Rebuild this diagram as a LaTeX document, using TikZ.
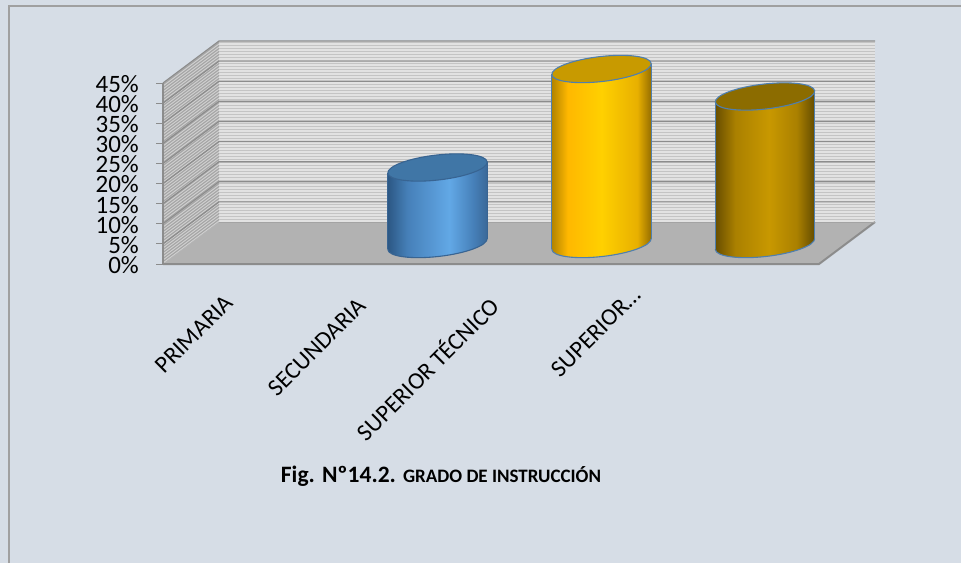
\documentclass[tikz,border=0pt]{standalone}
\usepackage{fontspec}
\setmainfont{Carlito}
\definecolor{bgc}{RGB}{214,221,230}
\definecolor{framec}{RGB}{160,160,160}
\definecolor{wallc}{RGB}{226,226,226}
\definecolor{stripec}{RGB}{196,196,196}
\definecolor{sidec}{RGB}{210,210,210}
\definecolor{sidestripe}{RGB}{165,165,165}
\definecolor{gridc}{RGB}{140,140,140}
\definecolor{floorc}{RGB}{178,178,178}
\definecolor{flooredge}{RGB}{140,140,140}
\definecolor{bA}{RGB}{44,88,132}
\definecolor{bB}{RGB}{70,128,185}
\definecolor{bC}{RGB}{98,168,230}
\definecolor{bD}{RGB}{58,104,152}
\definecolor{btop}{RGB}{64,118,166}
\definecolor{bline}{RGB}{56,100,146}
\definecolor{gA}{RGB}{178,132,0}
\definecolor{gB}{RGB}{255,184,0}
\definecolor{gC}{RGB}{255,208,0}
\definecolor{gD}{RGB}{232,176,0}
\definecolor{gE}{RGB}{150,110,0}
\definecolor{gtop}{RGB}{200,154,0}
\definecolor{dA}{RGB}{104,78,0}
\definecolor{dB}{RGB}{170,128,0}
\definecolor{dC}{RGB}{200,152,0}
\definecolor{dD}{RGB}{170,128,0}
\definecolor{dE}{RGB}{100,76,0}
\definecolor{dtop}{RGB}{140,108,0}
\definecolor{outl}{RGB}{79,127,175}
\pgfdeclarehorizontalshading{cylblue}{100bp}{color(0bp)=(bA); color(25bp)=(bA); color(35bp)=(bB); color(56bp)=(bC); color(68bp)=(bB); color(75bp)=(bD); color(100bp)=(bD)}
\pgfdeclarehorizontalshading{cylgold}{100bp}{color(0bp)=(gA); color(25bp)=(gA); color(33bp)=(gB); color(50bp)=(gC); color(68bp)=(gD); color(75bp)=(gE); color(100bp)=(gE)}
\pgfdeclarehorizontalshading{cyldark}{100bp}{color(0bp)=(dA); color(25bp)=(dA); color(35bp)=(dB); color(52bp)=(dC); color(66bp)=(dD); color(75bp)=(dE); color(100bp)=(dE)}
\newcommand\cylbar[6]{% #1 cx, #2 ytop, #3 ybot, #4 shading, #5 top color, #6 line color
  \begin{scope}
    \clip ({#1-49.7},{#2+5.3}) -- ({#1+49.7},{#2-5.3}) -- ({#1+49.7},{#3-5.3}) -- ({#1-49.7},{#3+5.3}) -- cycle;
    \shade[shading=#4] ({#1-49.7},{#2-20}) rectangle ({#1+49.7},{#3+20});
  \end{scope}
  \begin{scope}
    \clip[rotate around={6.5:(#1,#3)}] (#1,#3) ellipse [x radius=50pt, y radius=12.5pt];
    \shade[shading=#4] ({#1-49.7},{#2-20}) rectangle ({#1+49.7},{#3+20});
  \end{scope}
  \begin{scope}
    \clip ({#1-60},{#3+6.4}) -- ({#1+60},{#3-6.4}) -- ({#1+60},{#3+40}) -- ({#1-60},{#3+40}) -- cycle;
    \draw[#6, line width=1.1pt, rotate around={6.5:(#1,#3)}] (#1,#3) ellipse [x radius=50pt, y radius=12.5pt];
  \end{scope}
  \draw[#6, line width=1.1pt] ({#1-49.7},{#2+5.3}) -- ({#1-49.7},{#3+5.3});
  \draw[#6, line width=1.1pt] ({#1+49.7},{#2-5.3}) -- ({#1+49.7},{#3-5.3});
  \filldraw[fill=#5, draw=#6, line width=1.1pt, rotate around={6.5:(#1,#2)}] (#1,#2) ellipse [x radius=50pt, y radius=12.5pt];
}
\tikzset{
  ylab/.style={anchor=east, inner sep=0pt, font=\fontsize{25}{25}\selectfont},
  catlab/.style={anchor=center, rotate=45, inner sep=0pt, font=\fontsize{24}{24}\selectfont},
}
\begin{document}
\begin{tikzpicture}[x=1pt,y=-1pt]
\useasboundingbox (0,0) rectangle (961,563);
\fill[bgc] (0,0) rectangle (961,563);
\draw[framec, line width=2pt] (8.5,563) -- (8.5,5.5) -- (961,5.5);
% back wall
\fill[wallc] (219,41) rectangle (875,222);
\foreach \yy in {42.5,45.5,...,221} \draw[stripec, line width=1.3pt] (219,\yy) -- (875,\yy);
% side wall
\fill[sidec] (163,264) -- (219,222) -- (219,41) -- (163,83) -- cycle;
\begin{scope}
  \clip (163,264) -- (219,222) -- (219,41) -- (163,83) -- cycle;
  \foreach \yy in {84.5,87.5,...,265} \draw[sidestripe, line width=1.2pt] (163,\yy) -- (219,{\yy-42});
\end{scope}
% gridlines
\foreach \k in {1,...,9} {
  \draw[gridc, line width=1.2pt] (163,{264-20.11*\k}) -- (219,{222-20.11*\k}) -- (875,{222-20.11*\k});
}
\foreach \k in {0,...,9} \draw[gridc, line width=1pt] (156,{264-20.11*\k}) -- (163,{264-20.11*\k});
\draw[gridc, line width=1.2pt] (163,83) -- (163,264);
% floor
\fill[floorc] (163,264) -- (219,222) -- (875,222) -- (819,264) -- cycle;
\draw[flooredge, line width=2pt] (163,264) -- (819,264) -- (875,222);
\draw[flooredge!80, line width=1pt] (219,222) -- (875,222);
% cylinders
\cylbar{437.5}{167.5}{244}{cylblue}{btop}{bline}
\cylbar{601.5}{69}{244}{cylgold}{gtop}{outl}
\cylbar{765}{96.5}{244}{cyldark}{dtop}{outl}
% y labels
\foreach \k/\lab in {0/0\%,1/5\%,2/10\%,3/15\%,4/20\%,5/25\%,6/30\%,7/35\%,8/40\%,9/45\%}
  \node[ylab] (y\k) at (139,{265-20.11*\k}) {\lab};
% category labels
\node[catlab] (c1) at (194,334) {PRIMARIA};
\node[catlab] (c2) at (317,347) {SECUNDARIA};
\node[catlab] (c3) at (427,368) {SUPERIOR TÉCNICO};
\node[catlab] (c4) at (596,332) {SUPERIOR…};
% title
\node[inner sep=0pt, anchor=base] (title) at (441,482) {\bfseries\fontsize{23.5}{23.5}\selectfont Fig. Nº14.2. {\fontsize{19}{19}\selectfont GRADO DE INSTRUCCIÓN}};
\end{tikzpicture}
\end{document}
